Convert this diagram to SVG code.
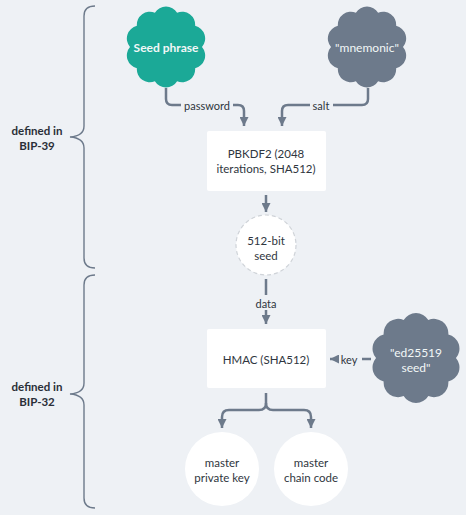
<svg xmlns="http://www.w3.org/2000/svg" width="466" height="515" viewBox="0 0 466 515">
<style>
  .bg { fill: #eef1f5; }
  .box { fill: #ffffff; }
  .circle { fill: #ffffff; }
  .cloud-teal { fill: #1ba997; }
  .cloud-gray { fill: #6d7a8b; }
  .conn { fill: none; stroke: #6d7a8b; stroke-width: 2.5; stroke-linejoin: round; }
  .brace { fill: none; stroke: #6d7a8b; stroke-width: 1.4; }
  text { font-family: Lato, "Open Sans", "Liberation Sans", sans-serif; text-anchor: middle; dominant-baseline: central; }
  .t { font-size: 11.5px; fill: #2f3640; }
  .lbl { font-size: 11px; fill: #2f3640; }
  .side { font-size: 11.5px; font-weight: bold; fill: #2a2f38; }
  .ct { font-size: 12px; fill: #f2f7f7; }
  .ctb { font-size: 12px; font-weight: bold; fill: #f2f7f7; }
</style>
<defs>
  <marker id="arr" markerUnits="userSpaceOnUse" markerWidth="9" markerHeight="9" viewBox="0 0 10 10" refX="10" refY="5" orient="auto">
    <path d="M0,0 L10,5 L0,10 z" fill="#6d7a8b"/>
  </marker>
  <path id="cloud" d="M36,0 A13,13 0 0 1 29.12,21.16 A13,13 0 0 1 11.12,34.24 A13,13 0 0 1 -11.12,34.24 A13,13 0 0 1 -29.12,21.16 A13,13 0 0 1 -36,0 A13,13 0 0 1 -29.12,-21.16 A13,13 0 0 1 -11.12,-34.24 A13,13 0 0 1 11.12,-34.24 A13,13 0 0 1 29.12,-21.16 A13,13 0 0 1 36,0 Z"/>
</defs>
<rect class="bg" x="0" y="0" width="466" height="515"/>

<g id="braces">
  <path class="brace" d="M95,6 Q84,6 84,16 V126 Q84,136 70,137 Q84,138 84,148 V258 Q84,268 95,268"/>
  <path class="brace" d="M95,275 Q84,275 84,285 V383 Q84,393 70,394 Q84,395 84,405 V498 Q84,508 95,508"/>
</g>

<g id="label-bip39">
  <text class="side" x="37" y="130">defined in</text>
  <text class="side" x="37" y="145">BIP-39</text>
</g>
<g id="label-bip32">
  <text class="side" x="37" y="386">defined in</text>
  <text class="side" x="37" y="401">BIP-32</text>
</g>

<g id="connectors">
  <path class="conn" d="M166,88 V99 Q166,105 172,105 H181"/>
  <text class="lbl" x="207" y="105">password</text>
  <path class="conn" d="M233,105 H238 Q244,105 244,111 V126" marker-end="url(#arr)"/>

  <path class="conn" d="M368,88 V99 Q368,105 362,105 H333"/>
  <text class="lbl" x="321" y="105">salt</text>
  <path class="conn" d="M310,105 H288 Q282,105 282,111 V126" marker-end="url(#arr)"/>

  <path class="conn" d="M266,195 V212" marker-end="url(#arr)"/>

  <path class="conn" d="M266,279 V295"/>
  <text class="lbl" x="266" y="303">data</text>
  <path class="conn" d="M266,310 V324" marker-end="url(#arr)"/>

  <path class="conn" d="M371,359 H362"/>
  <text class="lbl" x="349" y="359">key</text>
  <path class="conn" d="M339,359 H330" marker-end="url(#arr)"/>

  <path class="conn" d="M266,393 V403 Q266,410 259,410 H229 Q222,410 222,417 V428" marker-end="url(#arr)"/>
  <path class="conn" d="M266,403 Q266,410 273,410 H304 Q311,410 311,417 V428" marker-end="url(#arr)"/>
</g>

<g id="seed-phrase">
  <use href="#cloud" class="cloud-teal" transform="translate(166,47)"/>
  <text class="ctb" x="166" y="47">Seed phrase</text>
</g>

<g id="mnemonic">
  <use href="#cloud" class="cloud-gray" transform="translate(367,47)"/>
  <text class="ct" x="367" y="47">"mnemonic"</text>
</g>

<g id="pbkdf2">
  <rect class="box" x="207" y="131" width="119" height="60" rx="2"/>
  <text class="t" x="266" y="153">PBKDF2 (2048</text>
  <text class="t" x="266" y="168">iterations, SHA512)</text>
</g>

<g id="seed512">
  <circle cx="266" cy="245" r="30" fill="#ffffff" stroke="#cfd3d8" stroke-width="1.2" stroke-dasharray="4 3"/>
  <text class="t" x="266" y="240">512-bit</text>
  <text class="t" x="266" y="255">seed</text>
</g>

<g id="hmac">
  <rect class="box" x="207" y="329" width="119" height="59" rx="2"/>
  <text class="t" x="266" y="359">HMAC (SHA512)</text>
</g>

<g id="ed25519">
  <use href="#cloud" class="cloud-gray" transform="translate(416,358) scale(1.11)"/>
  <text class="ct" x="416" y="352">"ed25519</text>
  <text class="ct" x="416" y="367">seed"</text>
</g>

<g id="master-key">
  <circle class="circle" cx="222" cy="469" r="37"/>
  <text class="t" x="222" y="462">master</text>
  <text class="t" x="222" y="477">private key</text>
</g>

<g id="master-chain">
  <circle class="circle" cx="311" cy="469" r="37"/>
  <text class="t" x="311" y="462">master</text>
  <text class="t" x="311" y="477">chain code</text>
</g>
</svg>
